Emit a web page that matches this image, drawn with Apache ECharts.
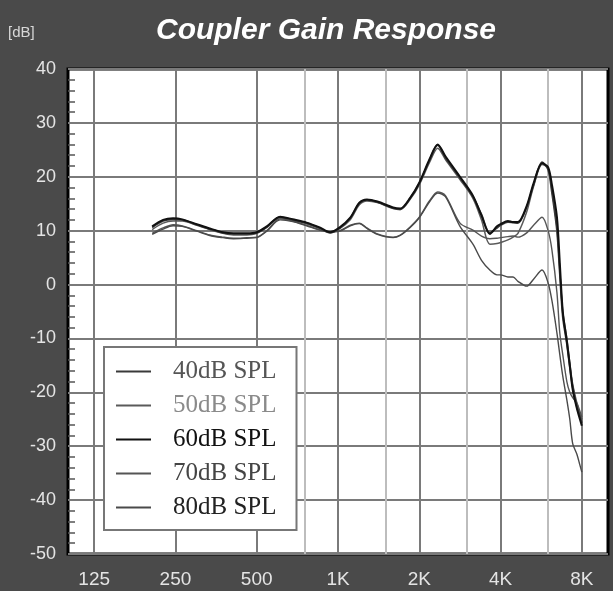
<!DOCTYPE html>
<html>
<head>
<meta charset="utf-8">
<script src="https://cdn.jsdelivr.net/npm/echarts@6/dist/echarts.min.js"></script>
<style>
html,body{margin:0;padding:0;background:#4a4a4a;}
#c{width:613px;height:591px;}
</style>
</head>
<body>
<div id="c"></div>
<script>
const freqs = [205, 225, 245, 265, 300, 335, 375, 410, 460, 500, 545, 610, 680, 765, 855, 935, 1015, 1110, 1200, 1280, 1400, 1600, 1700, 1850, 2000, 2180, 2340, 2500, 2830, 3160, 3400, 3650, 3880, 4000, 4260, 4450, 4640, 5000, 5300, 5700, 6000, 6200, 6470, 6630, 6800, 7040, 7220, 7400, 7670, 7870, 8000];

const s40 = [10.6, 11.8, 12.1, 12.0, 11.1, 10.3, 9.6, 9.4, 9.4, 9.6, 10.7, 12.5, 12.0, 11.4, 10.5, 9.6, 10.5, 12.3, 15.1, 15.7, 15.3, 14.2, 14.0, 16.0, 18.8, 23.0, 25.9, 23.5, 19.8, 16.3, 13.0, 9.6, 10.5, 11.0, 11.6, 11.5, 11.4, 14.4, 18.5, 22.7, 21.3, 17.0, 10.0, 2.0, -6.0, -11.0, -15.3, -19.0, -22.7, -24.5, -25.7];
const s50 = [10.2, 11.4, 11.8, 11.8, 11.0, 10.2, 9.5, 9.2, 9.2, 9.5, 10.6, 12.4, 12.0, 11.3, 10.4, 9.7, 10.4, 12.0, 14.8, 15.5, 15.2, 14.1, 13.9, 15.8, 18.5, 22.6, 25.3, 23.2, 19.5, 16.0, 12.0, 7.5, 7.6, 7.8, 8.3, 8.8, 9.5, 13.5, 18.2, 22.3, 21.6, 17.5, 10.5, 2.5, -5.0, -10.0, -14.5, -18.5, -22.0, -24.0, -25.0];
const s60 = [10.8, 12.0, 12.3, 12.1, 11.2, 10.4, 9.7, 9.5, 9.5, 9.7, 10.8, 12.6, 12.1, 11.5, 10.6, 9.7, 10.6, 12.4, 15.2, 15.8, 15.4, 14.3, 14.1, 16.1, 18.9, 23.2, 26.0, 23.8, 20.0, 16.5, 12.8, 9.4, 10.8, 11.2, 11.8, 11.6, 11.6, 14.6, 18.8, 22.5, 21.8, 18.5, 12.5, 4.0, -5.0, -10.5, -15.0, -19.5, -23.0, -25.0, -26.2];
const s70 = [9.5, 10.5, 11.1, 10.9, 10.0, 9.2, 8.8, 8.6, 8.7, 8.8, 10.0, 12.2, 11.8, 11.0, 10.2, 9.8, 10.0, 11.0, 11.4, 10.5, 9.4, 8.8, 9.2, 10.7, 12.5, 15.5, 17.2, 16.5, 11.4, 10.1, 9.0, 8.5, 8.6, 8.7, 8.9, 9.0, 8.8, 9.6, 11.0, 12.5, 10.0, 6.4, -1.5, -9.0, -13.0, -18.0, -20.0, -21.0, -22.0, -23.5, -24.6];
const s80 = [9.3, 10.3, 10.9, 10.8, 9.9, 9.1, 8.7, 8.5, 8.6, 8.7, 9.9, 12.0, 11.7, 10.9, 10.1, 9.7, 9.9, 10.9, 11.3, 10.4, 9.3, 8.7, 9.1, 10.6, 12.4, 15.3, 17.0, 16.3, 10.8, 7.5, 4.5, 2.7, 1.8, 1.8, 1.4, 1.4, 0.6, -0.3, 1.0, 2.7, 0.3, -3.0, -9.0, -13.0, -17.0, -21.4, -25.0, -29.5, -31.5, -33.5, -34.8];

const seriesNames = ['40dB SPL', '50dB SPL', '60dB SPL', '70dB SPL', '80dB SPL'];
const seriesValues = [s40, s50, s60, s70, s80];
const lineColors = ['#3a3a3a', '#5a5a5a', '#111111', '#555555', '#4a4a4a'];
const lineWidths = [1.8, 1.5, 2, 1.4, 1.4];
const legendTextColors = ['#555555', '#8a8a8a', '#111111', '#444444', '#222222'];

const xMajorTicks = [125, 250, 500, 1000, 2000, 4000, 8000];
const xMajorLabels = ['125', '250', '500', '1K', '2K', '4K', '8K'];
const xMinorTicks = [750, 1500, 3000, 6000];

const chart = echarts.init(document.getElementById('c'), null, {renderer: 'canvas'});

const series = seriesNames.map((name, i) => ({
  name: name,
  type: 'line',
  xAxisIndex: 0,
  yAxisIndex: 0,
  showSymbol: false,
  symbol: 'none',
  smooth: 0.3,
  z: [3, 2, 4, 2, 2][i],
  lineStyle: {color: lineColors[i], width: lineWidths[i]},
  itemStyle: {color: lineColors[i]},
  data: freqs.map((f, k) => [f, seriesValues[i][k]])
}));

const option = {
  backgroundColor: '#4a4a4a',
  animation: false,
  title: [
    {
      text: 'Coupler Gain Response',
      left: 321, top: 11, textAlign: 'center',
      textStyle: {color: '#ffffff', fontSize: 30, fontWeight: 'bold', fontStyle: 'italic', fontFamily: 'Liberation Sans, Arial, sans-serif'}
    },
    {
      text: '[dB]',
      left: 3, top: 20,
      textStyle: {color: '#d8d8d8', fontSize: 15, fontWeight: 'normal', fontFamily: 'Liberation Sans, Arial, sans-serif'}
    }
  ],
  grid: {
    left: 68, right: 5, top: 69, bottom: 37,
    show: true, backgroundColor: '#ffffff', borderColor: '#000000', borderWidth: 3,
    containLabel: false
  },
  xAxis: [
    {
      type: 'log', logBase: 2, min: 100, max: 10000,
      axisLine: {show: false},
      axisTick: {show: false, customValues: xMajorTicks},
      axisLabel: {
        customValues: xMajorTicks,
        color: '#e4e4e4', fontSize: 19, margin: 16,
        fontFamily: 'Liberation Sans, Arial, sans-serif',
        formatter: (v) => xMajorLabels[xMajorTicks.indexOf(Math.round(v))] ?? ''
      },
      splitLine: {show: true, lineStyle: {color: '#7a7a7a', width: 2}},
      minorTick: {show: false}, minorSplitLine: {show: false}
    },
    {
      type: 'log', logBase: 2, min: 100, max: 10000,
      axisLine: {show: false},
      axisTick: {show: false, customValues: xMinorTicks},
      axisLabel: {show: false, customValues: xMinorTicks},
      splitLine: {show: true, lineStyle: {color: '#bdbdbd', width: 2}}
    }
  ],
  yAxis: {
    type: 'value', min: -50, max: 40, interval: 10,
    axisLine: {show: false},
    axisTick: {show: false, inside: true},
    minorTick: {show: true, splitNumber: 5, length: 7, lineStyle: {color: '#555', width: 1.5}},
    axisLabel: {color: '#e4e4e4', fontSize: 18, margin: 12, fontFamily: 'Liberation Sans, Arial, sans-serif'},
    splitLine: {show: true, lineStyle: {color: '#7a7a7a', width: 2}}
  },
  legend: {
    orient: 'vertical', left: 104, top: 347,
    padding: [12, 20, 10, 12],
    backgroundColor: '#ffffff', borderColor: '#777777', borderWidth: 2,
    itemWidth: 35, itemHeight: 2, itemGap: 9,
    icon: 'rect', selectedMode: false,
    textStyle: {fontFamily: 'Liberation Serif, Times New Roman, serif', fontSize: 25, lineHeight: 25, padding: [0, 0, 0, 17]},
    data: seriesNames.map((n, i) => ({name: n, textStyle: {color: legendTextColors[i]}}))
  },
  series: series
};
chart.setOption(option);
</script>
</body>
</html>
